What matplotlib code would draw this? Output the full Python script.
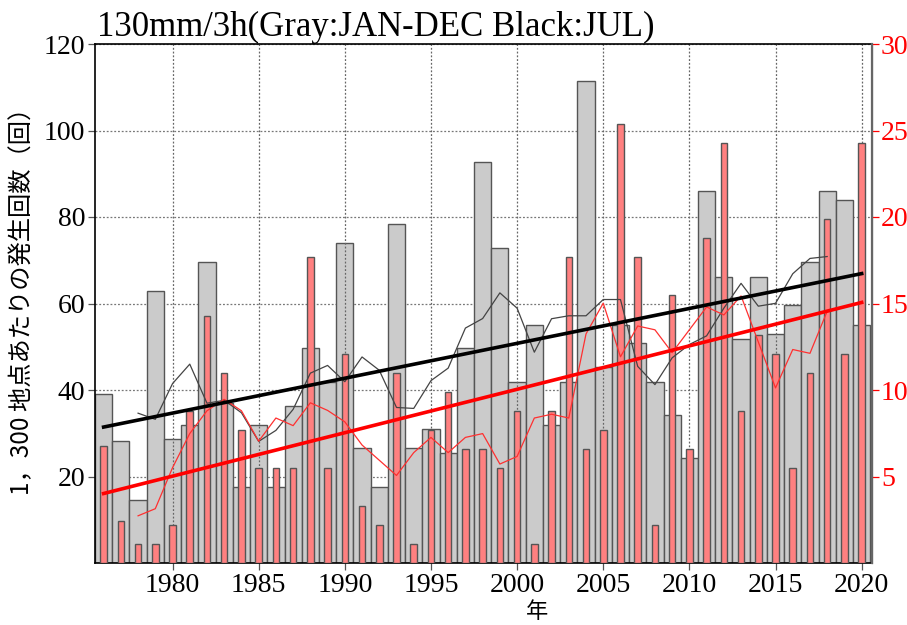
import numpy as np
import pandas as pd
import matplotlib
matplotlib.use("Agg")
import matplotlib.pyplot as plt

years = list(range(1976, 2021))
# Annual (JAN-DEC) counts per 1,300 stations (left axis)
annual = [39.1, 28.2, 14.5, 62.8, 28.6, 32.0, 69.5, 37.0, 17.6, 32.0,
          17.6, 36.4, 49.7, 41.9, 73.9, 26.5, 17.6, 78.3, 26.5, 30.9,
          25.4, 49.7, 92.8, 72.8, 41.9, 55.1, 32.0, 41.9, 111.5, 45.3,
          55.1, 50.8, 41.9, 34.2, 24.2, 86.1, 66.2, 51.9, 66.2, 52.9,
          59.7, 69.5, 86.1, 83.9, 55.1]
# July counts per 1,300 stations (right axis)
july = [6.75, 2.45, 1.12, 1.12, 2.2, 8.8, 14.3, 11.0, 7.7, 5.5,
        5.5, 5.5, 17.7, 5.5, 12.1, 3.3, 2.2, 11.0, 1.1, 7.7,
        9.9, 6.6, 6.6, 5.5, 8.8, 1.1, 8.8, 17.7, 6.6, 7.7,
        25.4, 17.7, 2.2, 15.5, 6.6, 18.8, 24.3, 8.8, 13.2, 12.1,
        5.5, 11.0, 19.9, 12.1, 24.3]

xticks = [1980, 1985, 1990, 1995, 2000, 2005, 2010, 2015, 2020]
left_ticks = [20, 40, 60, 80, 100, 120]
right_ticks = [5, 10, 15, 20, 25, 30]
LEFT_MAX = 120
RIGHT_MAX = 30
RATIO = RIGHT_MAX / LEFT_MAX

title = "130mm/3h(Gray:JAN-DEC Black:JUL)"
ylabel = "1，300 地点あたりの発生回数（回）"
xlabel = "年"

yrs = np.array(years, dtype=float)
ann = np.array(annual)
jul = np.array(july)
ann_ma = pd.Series(ann).rolling(5, center=True).mean().to_numpy()
jul_ma = pd.Series(jul).rolling(5, center=True).mean().to_numpy()
ann_fit = np.polyval(np.polyfit(yrs, ann, 1), yrs)
jul_fit = np.polyval(np.polyfit(yrs, jul, 1), yrs)

serif = "Liberation Serif"

fig = plt.figure(figsize=(9.07, 6.25), dpi=100)
ax = fig.add_axes([95/907, 1-563/625, (872-95)/907, (563-44)/625])
ax2 = ax.twinx()

ax.set_axisbelow(True)
ax.yaxis.grid(True, linestyle=(0, (1.5, 1.5)), color="#777777", linewidth=0.9)
ax.bar(yrs, ann, width=1.0, color="#cbcbcb", edgecolor="#555555", linewidth=1.0, zorder=1)
for xt in xticks:
    ax.axvline(xt, linestyle=(0, (1.5, 1.5)), color="#666666", linewidth=0.9, zorder=2)

ax2.bar(yrs, jul, width=0.38, color="#ff8080", edgecolor="#555555", linewidth=1.0, zorder=1)
ax2.plot(yrs, ann_ma * RATIO, color="#444444", linewidth=0.9, zorder=3)
ax2.plot(yrs, jul_ma, color="#ff3030", linewidth=0.9, zorder=3)
ax2.plot(yrs, ann_fit * RATIO, color="black", linewidth=2.6, zorder=4)
ax2.plot(yrs, jul_fit, color="#ff0000", linewidth=2.6, zorder=4)

ax.set_xlim(1975.5, 2020.6)
ax.set_ylim(0, LEFT_MAX)
ax2.set_ylim(0, RIGHT_MAX)

ax.set_xticks(xticks)
ax.set_yticks(left_ticks)
ax2.set_yticks(right_ticks)
ax.tick_params(axis="both", direction="out", length=5, width=0.9, color="#555555",
               labelsize=20, pad=2)
ax2.tick_params(axis="y", direction="out", length=5, width=0.9, colors="#ff0000",
                labelsize=20, pad=1.5)
for lab in ax.get_xticklabels() + ax.get_yticklabels() + ax2.get_yticklabels():
    lab.set_fontfamily(serif)

for sp in ["left", "bottom", "top"]:
    ax.spines[sp].set_color("black")
    ax.spines[sp].set_linewidth(1.2)
ax2.spines["right"].set_color("#666666")
ax2.spines["right"].set_linewidth(1.6)
for sp in ["left", "bottom", "top"]:
    ax2.spines[sp].set_visible(False)

ax.text(0.002, 1.0, title, transform=ax.transAxes, ha="left", va="bottom",
        fontsize=25, family=serif)
ax.set_ylabel(ylabel, family=["Noto Sans CJK JP", "DejaVu Sans"], fontsize=17.5)
ax.yaxis.set_label_coords(-0.077, 0.516)
fig.text(537/907, 1-611/625, xlabel, ha="center", va="center",
         family=["Noto Sans CJK JP", "DejaVu Sans"], fontsize=16)

fig.savefig("out.png", dpi=100)
